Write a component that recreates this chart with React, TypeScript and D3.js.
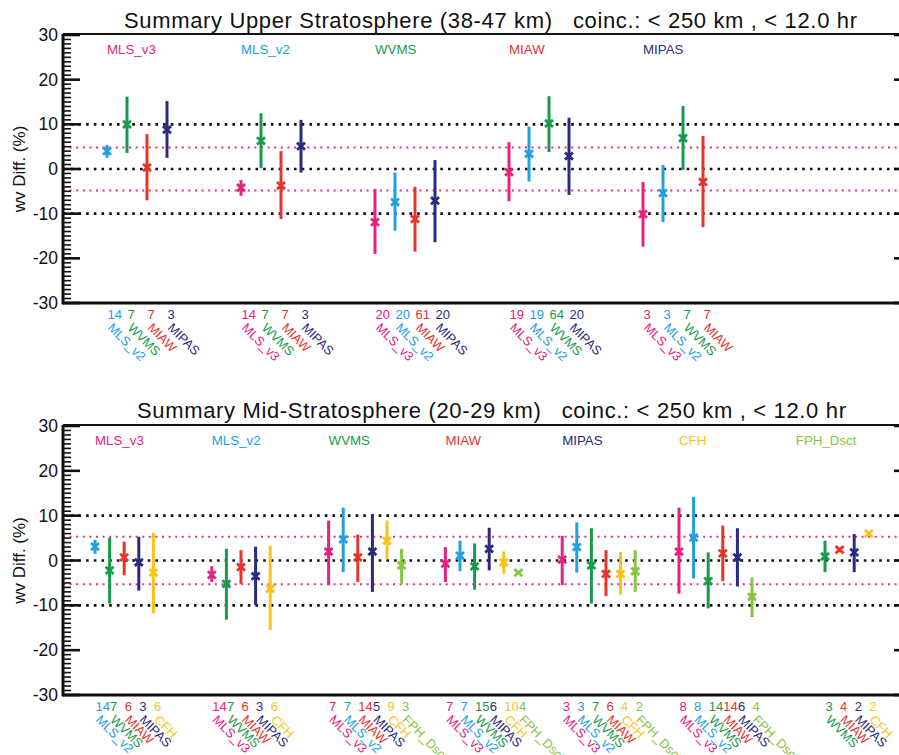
import React from "react";
import * as d3 from "d3";

// Instruments and their plotting colours
const INSTRUMENTS = ["MLS_v3", "MLS_v2", "WVMS", "MIAW", "MIPAS", "CFH", "FPH_Dsct"];
const INSTRUMENT_COLORS = ["#e8207f", "#21a0e0", "#179a4c", "#e5342a", "#2c2a80", "#fcc219", "#86c443"];

const UPPER_TITLE = "Summary Upper Stratosphere (38-47 km)   coinc.: < 250 km , < 12.0 hr";
const MID_TITLE = "Summary Mid-Stratosphere (20-29 km)   coinc.: < 250 km , < 12.0 hr";

const Y_TICKS = [-30, -20, -10, 0, 10, 20, 30];

// Rows: [comparison instrument, coincidences, mean diff (%), lower, upper]
type Row = [string, number, number, number, number];

// ---- Upper stratosphere (38-47 km) ----
const UPPER_GROUPS = ["MLS_v3", "MLS_v2", "WVMS", "MIAW", "MIPAS"];
const upperMLSv3: Row[] = [
  ["MLS_v2", 14, 4.0, 2.5, 5.4],
  ["WVMS", 7, 10.0, 3.6, 16.2],
  ["MIAW", 7, 0.3, -7.0, 7.8],
  ["MIPAS", 3, 8.8, 2.5, 15.2],
];
const upperMLSv2: Row[] = [
  ["MLS_v3", 14, -4.2, -6.0, -2.5],
  ["WVMS", 7, 6.3, 0.2, 12.5],
  ["MIAW", 7, -3.7, -11.2, 4.0],
  ["MIPAS", 3, 5.1, -0.8, 11.0],
];
const upperWVMS: Row[] = [
  ["MLS_v3", 20, -11.9, -19.0, -4.5],
  ["MLS_v2", 20, -7.4, -13.8, -0.8],
  ["MIAW", 61, -11.2, -18.5, -4.0],
  ["MIPAS", 20, -7.1, -16.4, 2.0],
];
const upperMIAW: Row[] = [
  ["MLS_v3", 19, -0.7, -7.2, 6.0],
  ["MLS_v2", 19, 3.4, -2.8, 9.5],
  ["WVMS", 64, 10.2, 3.8, 16.3],
  ["MIPAS", 20, 2.9, -5.8, 11.5],
];
const upperMIPAS: Row[] = [
  ["MLS_v3", 3, -10.1, -17.4, -2.9],
  ["MLS_v2", 3, -5.4, -11.9, 0.9],
  ["WVMS", 7, 6.9, -0.2, 14.1],
  ["MIAW", 7, -2.9, -13.0, 7.4],
];
const UPPER_ROWS = [upperMLSv3, upperMLSv2, upperWVMS, upperMIAW, upperMIPAS];
const UPPER_BAND = 4.8;

// ---- Mid stratosphere (20-29 km) ----
const MID_GROUPS = INSTRUMENTS;
const midMLSv3: Row[] = [
  ["MLS_v2", 14, 3.1, 1.5, 4.6],
  ["WVMS", 7, -2.2, -9.6, 5.1],
  ["MIAW", 6, 0.7, -3.3, 4.2],
  ["MIPAS", 3, -0.4, -6.7, 5.3],
  ["CFH", 6, -2.7, -11.8, 6.2],
];
const midMLSv2: Row[] = [
  ["MLS_v3", 14, -3.2, -4.8, -1.3],
  ["WVMS", 7, -5.2, -13.2, 2.6],
  ["MIAW", 6, -1.5, -5.2, 2.3],
  ["MIPAS", 3, -3.5, -10.0, 3.1],
  ["CFH", 6, -6.3, -15.5, 3.3],
];
const midWVMS: Row[] = [
  ["MLS_v3", 7, 2.0, -5.5, 8.9],
  ["MLS_v2", 7, 4.7, -2.6, 11.8],
  ["MIAW", 14, 0.7, -4.8, 5.8],
  ["MIPAS", 5, 2.0, -7.0, 10.4],
  ["CFH", 9, 4.4, 0.3, 8.9],
  ["FPH_Dsct", 3, -1.1, -5.2, 2.6],
];
const midMIAW: Row[] = [
  ["MLS_v3", 7, -0.7, -4.8, 3.0],
  ["MLS_v2", 7, 1.1, -2.4, 4.4],
  ["WVMS", 15, -1.3, -6.5, 3.8],
  ["MIPAS", 6, 2.6, -2.2, 7.3],
  ["CFH", 10, -0.4, -3.0, 2.0],
  ["FPH_Dsct", 4, -2.7, -2.7, -2.7],
];
const midMIPAS: Row[] = [
  ["MLS_v3", 3, 0.2, -5.5, 5.5],
  ["MLS_v2", 3, 3.0, -2.7, 8.5],
  ["WVMS", 7, -1.1, -9.6, 7.2],
  ["MIAW", 6, -3.0, -7.9, 2.3],
  ["CFH", 4, -3.0, -7.6, 1.9],
  ["FPH_Dsct", 2, -2.4, -7.0, 2.3],
];
const midCFH: Row[] = [
  ["MLS_v3", 8, 2.0, -7.4, 11.8],
  ["MLS_v2", 8, 5.1, -4.0, 14.2],
  ["WVMS", 14, -4.6, -10.7, 1.8],
  ["MIAW", 14, 1.6, -4.6, 7.8],
  ["MIPAS", 6, 0.7, -5.8, 7.2],
  ["FPH_Dsct", 4, -8.1, -12.6, -3.8],
];
const midFPH: Row[] = [
  ["WVMS", 3, 0.9, -2.6, 4.4],
  ["MIAW", 4, 2.4, 2.4, 2.4],
  ["MIPAS", 2, 1.8, -2.6, 5.9],
  ["CFH", 2, 6.0, 6.0, 6.0],
];
const MID_ROWS = [midMLSv3, midMLSv2, midWVMS, midMIAW, midMIPAS, midCFH, midFPH];
const MID_BAND = 5.3;

const FONT = "'Liberation Sans', Arial, Helvetica, sans-serif";
const colorOf = (name: string) => INSTRUMENT_COLORS[INSTRUMENTS.indexOf(name)];

type PanelProps = {
  title: string;
  titleY: number;
  titleX: number;
  titleWidth: number;
  groups: string[];
  rows: Row[][];
  band: number;
  top: number;
  bottom: number;
  x0: number;
  slotPx: number;
  groupSlots: number;
};

const LEFT = 63;
const RIGHT = 911;

function Panel({ title, titleY, titleX, titleWidth, groups, rows, band, top, bottom, x0, slotPx, groupSlots }: PanelProps) {
  const y = d3.scaleLinear().domain([-30, 30]).range([bottom, top + 1]);
  const x = d3.scaleLinear().domain([0, 1]).range([x0, x0 + slotPx]);
  const slotX = (g: number, name: string) => {
    const others = groups.filter((d) => d !== groups[g]);
    return x(g * groupSlots + others.indexOf(name));
  };
  const minor = d3.range(-30, 31, 1);

  return (
    <g>
      <text x={titleX} y={titleY} fontFamily={FONT} fontSize={22} textLength={titleWidth}
        lengthAdjust="spacing" style={{ whiteSpace: "pre" }} fill="#111">{title}</text>

      {/* reference lines */}
      {[-10, 0, 10].map((v) => (
        <line key={"k" + v} x1={LEFT} x2={RIGHT} y1={y(v)} y2={y(v)} stroke="#111" strokeWidth={2.6}
          strokeDasharray="2.6 5.1" />
      ))}
      {[-band, band].map((v) => (
        <line key={"p" + v} x1={LEFT} x2={RIGHT} y1={y(v)} y2={y(v)} stroke="#ec2a8c" strokeWidth={2}
          strokeDasharray="2 4.6" />
      ))}

      {/* frame */}
      <line x1={LEFT} x2={RIGHT} y1={top} y2={top} stroke="#111" strokeWidth={2} />
      <line x1={LEFT} x2={RIGHT} y1={bottom} y2={bottom} stroke="#111" strokeWidth={3} />
      <line x1={LEFT} x2={LEFT} y1={top} y2={bottom + 1.5} stroke="#111" strokeWidth={3} />
      <line x1={RIGHT} x2={RIGHT} y1={top} y2={bottom} stroke="#111" strokeWidth={3} />

      {/* y ticks */}
      {minor.map((v) => {
        const major = v % 10 === 0;
        const len = major ? 17 : 8;
        return (
          <g key={"t" + v}>
            <line x1={LEFT} x2={LEFT + len} y1={y(v)} y2={y(v)} stroke="#111" strokeWidth={major ? 2.6 : 1.6} />
            <line x1={RIGHT} x2={RIGHT - len} y1={y(v)} y2={y(v)} stroke="#111" strokeWidth={major ? 2.6 : 1.6} />
          </g>
        );
      })}
      {Y_TICKS.map((v) => (
        <text key={"l" + v} x={LEFT - 5} y={y(v) + 6} textAnchor="end" fontFamily={FONT} fontSize={17.5} fill="#111">
          {v}
        </text>
      ))}
      <text transform={`translate(25,${y(0)}) rotate(-90)`} textAnchor="middle" fontFamily={FONT} fontSize={17}
        fill="#111">wv Diff. (%)</text>

      {/* group headers */}
      {groups.map((g, gi) => (
        <text key={"h" + g} x={x(gi * groupSlots)} y={top + 20} fontFamily={FONT} fontSize={13.3} fill={colorOf(g)}>
          {g}
        </text>
      ))}

      {/* comparisons */}
      {rows.map((group, gi) =>
        group.map(([name, n, mean, lo, hi]) => {
          const cx = slotX(gi, name);
          const cy = y(mean);
          const c = colorOf(name);
          return (
            <g key={gi + name}>
              {hi > lo && <line x1={cx} x2={cx} y1={y(hi)} y2={y(lo)} stroke={c} strokeWidth={3} />}
              <path d={`M${cx - 4},${cy - 3.6}L${cx + 4},${cy + 3.6}M${cx - 4},${cy + 3.6}L${cx + 4},${cy - 3.6}`}
                stroke={c} strokeWidth={2.8} fill="none" />
              <text x={cx + 0.5} y={bottom + 15.5} fontFamily={FONT} fontSize={13} fill={c}>{n}</text>
              <text transform={`translate(${cx},${bottom + 25.5}) rotate(45)`} fontFamily={FONT} fontSize={12.8}
                fill={c}>{name}</text>
            </g>
          );
        })
      )}
    </g>
  );
}

export default function App() {
  return (
    <svg width={899} height={755} style={{ position: "absolute", left: 0, top: 0, background: "#fff" }}>
      <rect width={899} height={755} fill="#fff" />
      <Panel title={UPPER_TITLE} titleY={28} titleX={124} titleWidth={733} groups={UPPER_GROUPS} rows={UPPER_ROWS}
        band={UPPER_BAND} top={34} bottom={303} x0={107} slotPx={20} groupSlots={6.7} />
      <Panel title={MID_TITLE} titleY={418} titleX={137} titleWidth={709} groups={MID_GROUPS} rows={MID_ROWS}
        band={MID_BAND} top={425} bottom={695} x0={95} slotPx={14.6} groupSlots={8} />
    </svg>
  );
}
